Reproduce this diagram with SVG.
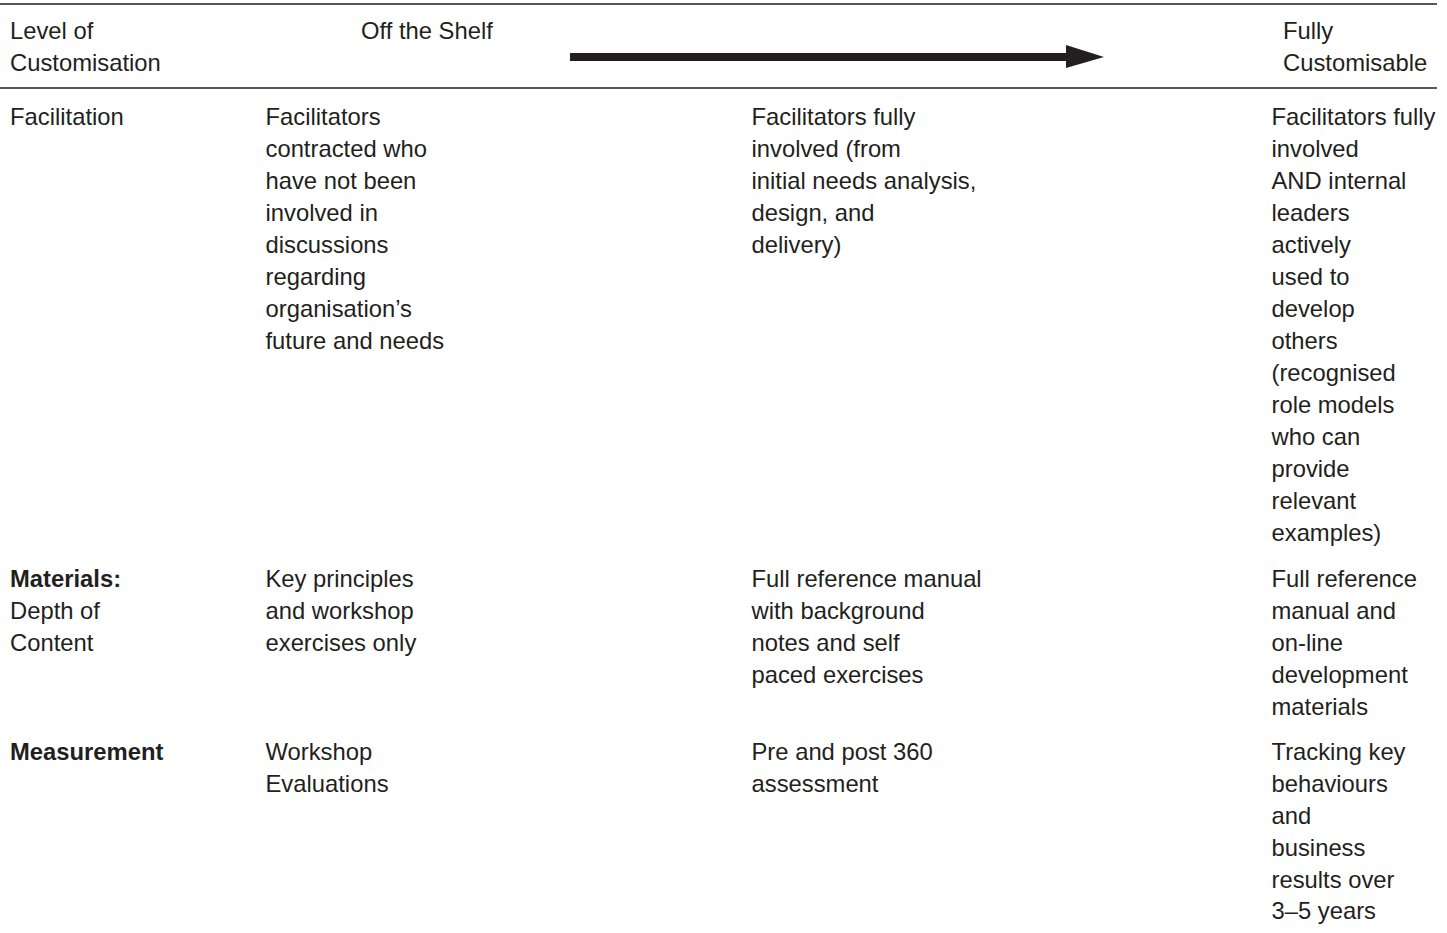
<svg xmlns="http://www.w3.org/2000/svg" width="1447" height="933" viewBox="0 0 1447 933">
  <style>
    text { font-family: "Liberation Sans", Arial, Helvetica, sans-serif; font-size: 23.8px; fill: #231f20; }
    .b { font-weight: bold; }
    .rule { stroke: #231f20; stroke-width: 1.6; }
  </style>
  <rect width="1447" height="933" fill="#ffffff"/>

  <!-- table rules -->
  <g id="rules">
    <line class="rule" x1="0" y1="4" x2="1437" y2="4"/>
    <line class="rule" x1="0" y1="88" x2="1437" y2="88"/>
  </g>

  <!-- header row -->
  <g id="header">
    <text x="10" y="39">Level of</text>
    <text x="10" y="71">Customisation</text>
    <text x="361" y="39">Off the Shelf</text>
    <text x="1283" y="39">Fully</text>
    <text x="1283" y="71">Customisable</text>
  </g>

  <!-- direction arrow -->
  <g id="connectors">
    <rect x="570" y="53" width="500" height="8" fill="#231f20"/>
    <path d="M1066 45 L1104 57 L1066 68 Z" fill="#231f20"/>
  </g>

  <!-- Facilitation row -->
  <g id="facilitation">
    <text x="10" y="125">Facilitation</text>
    <text x="265.5" y="125">Facilitators</text>
    <text x="265.5" y="157">contracted who</text>
    <text x="265.5" y="189">have not been</text>
    <text x="265.5" y="221">involved in</text>
    <text x="265.5" y="253">discussions</text>
    <text x="265.5" y="285">regarding</text>
    <text x="265.5" y="317">organisation’s</text>
    <text x="265.5" y="349">future and needs</text>
    <text x="751.5" y="125">Facilitators fully</text>
    <text x="751.5" y="157">involved (from</text>
    <text x="751.5" y="189">initial needs analysis,</text>
    <text x="751.5" y="221">design, and</text>
    <text x="751.5" y="253">delivery)</text>
    <text x="1271.5" y="125">Facilitators fully</text>
    <text x="1271.5" y="157">involved</text>
    <text x="1271.5" y="189">AND internal</text>
    <text x="1271.5" y="221">leaders</text>
    <text x="1271.5" y="253">actively</text>
    <text x="1271.5" y="285">used to</text>
    <text x="1271.5" y="317">develop</text>
    <text x="1271.5" y="349">others</text>
    <text x="1271.5" y="381">(recognised</text>
    <text x="1271.5" y="413">role models</text>
    <text x="1271.5" y="445">who can</text>
    <text x="1271.5" y="477">provide</text>
    <text x="1271.5" y="509">relevant</text>
    <text x="1271.5" y="541">examples)</text>
  </g>

  <!-- Materials row -->
  <g id="materials">
    <text x="10" y="587" class="b">Materials:</text>
    <text x="10" y="619">Depth of</text>
    <text x="10" y="651">Content</text>
    <text x="265.5" y="587">Key principles</text>
    <text x="265.5" y="619">and workshop</text>
    <text x="265.5" y="651">exercises only</text>
    <text x="751.5" y="587">Full reference manual</text>
    <text x="751.5" y="619">with background</text>
    <text x="751.5" y="651">notes and self</text>
    <text x="751.5" y="683">paced exercises</text>
    <text x="1271.5" y="587">Full reference</text>
    <text x="1271.5" y="619">manual and</text>
    <text x="1271.5" y="651">on-line</text>
    <text x="1271.5" y="683">development</text>
    <text x="1271.5" y="715">materials</text>
  </g>

  <!-- Measurement row -->
  <g id="measurement">
    <text x="10" y="760" class="b">Measurement</text>
    <text x="265.5" y="760">Workshop</text>
    <text x="265.5" y="792">Evaluations</text>
    <text x="751.5" y="760">Pre and post 360</text>
    <text x="751.5" y="792">assessment</text>
    <text x="1271.5" y="760">Tracking key</text>
    <text x="1271.5" y="792">behaviours</text>
    <text x="1271.5" y="824">and</text>
    <text x="1271.5" y="856">business</text>
    <text x="1271.5" y="888">results over</text>
    <text x="1271.5" y="919">3–5 years</text>
  </g>
</svg>
